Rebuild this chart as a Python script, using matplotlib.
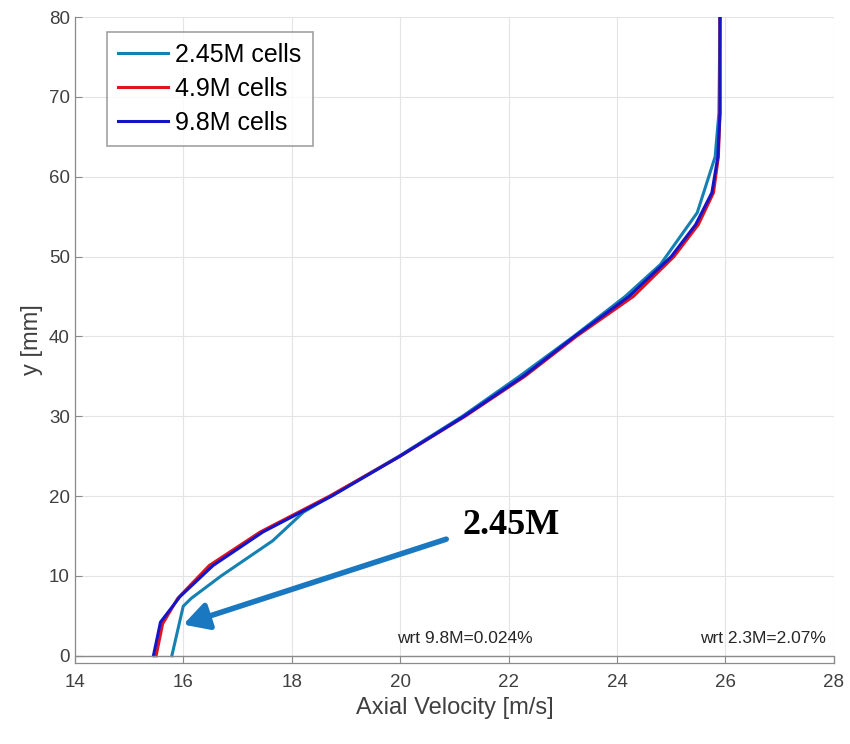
import matplotlib

matplotlib.use("Agg")
import matplotlib.pyplot as plt

plt.rcParams["font.family"] = ["Liberation Sans", "DejaVu Sans"]

# --- data ---------------------------------------------------------------------------------
y_coarse = [0, 6.2, 7.2, 10, 14.4, 18, 20, 25, 30, 35, 40, 45, 49, 55.5, 62.5, 68, 80]
x_coarse = [15.79, 16.0, 16.15, 16.7, 17.65, 18.22, 18.72, 19.98, 21.15, 22.2, 23.2,
            24.15, 24.8, 25.48, 25.81, 25.88, 25.9]

y_medium = [0, 4.0, 7.2, 11.3, 15.5, 20, 25, 30, 35, 40, 45, 50, 54, 58, 62.5, 68, 80]
x_medium = [15.5, 15.62, 15.9, 16.48, 17.42, 18.7, 20.0, 21.2, 22.3, 23.25, 24.3,
            25.05, 25.5, 25.78, 25.87, 25.9, 25.9]

y_fine = [0, 4.2, 7.4, 11.3, 15.5, 20, 25, 30, 35, 40, 45, 50, 54, 58, 62.5, 68, 80]
x_fine = [15.45, 15.58, 15.94, 16.55, 17.47, 18.74, 20.0, 21.18, 22.27, 23.22, 24.22,
          25.0, 25.45, 25.75, 25.86, 25.9, 25.9]

labels = ["2.45M cells", "4.9M cells", "9.8M cells"]
colors = ["#1580b2", "#e0141e", "#1414c8"]

arrow_tail = (20.85, 14.6)
arrow_head = (16.0, 3.9)
arrow_text = "2.45M"
note_left = "wrt 9.8M=0.024%"
note_right = "wrt 2.3M=2.07%"

x_ticks = [14, 16, 18, 20, 22, 24, 26, 28]
y_ticks = [0, 10, 20, 30, 40, 50, 60, 70, 80]

# --- figure -------------------------------------------------------------------------------
fig = plt.figure(figsize=(8.5, 7.44), dpi=100)
ax = fig.add_axes([0.088, 0.109, 0.893, 0.868])

axis_gray = "#8a8a8a"
ax.grid(True, color="#e4e4e4", lw=0.8)
ax.set_axisbelow(True)

for xs, ys, lab, col in zip([x_coarse, x_medium, x_fine], [y_coarse, y_medium, y_fine],
                            labels, colors):
    ax.plot(xs, ys, color=col, lw=2.2, label=lab, solid_joinstyle="round")

ax.axhline(0, color=axis_gray, lw=1.0)

ax.annotate("", xy=arrow_head, xytext=arrow_tail,
            arrowprops=dict(arrowstyle="-|>,head_length=1.0,head_width=0.55",
                            mutation_scale=15, color="#1a78c0", lw=4.0,
                            shrinkA=0, shrinkB=0))
ax.text(21.15, 16.3, arrow_text, family=["Liberation Serif", "DejaVu Serif"],
        fontweight="bold", fontsize=26, va="center", ha="left", color="black")

ax.text(19.95, 2.1, note_left, fontsize=12.5, color="#262626", va="center", ha="left")
ax.text(27.85, 2.1, note_right, fontsize=12.5, color="#262626", va="center", ha="right")

ax.set_xlim(14, 28)
ax.set_ylim(-0.9, 80)
ax.set_xticks(x_ticks)
ax.set_yticks(y_ticks)
ax.tick_params(direction="in", length=5, width=0.8, color=axis_gray,
               labelsize=13.5, labelcolor="#404040", top=False, right=False)
ax.tick_params(axis="x", pad=8)
for s in ax.spines.values():
    s.set_color(axis_gray)
    s.set_linewidth(0.9)
ax.spines["top"].set_visible(False)
# the bottom band is closed at x=28, no right spine above it
ax.spines["right"].set_bounds(-0.9, 0)

ax.set_xlabel("Axial Velocity [m/s]", fontsize=17, color="#404040", labelpad=4)
ax.set_ylabel("y [mm]", fontsize=17, color="#404040", labelpad=4)

leg = ax.legend(loc="upper left", bbox_to_anchor=(0.042, 0.977), fontsize=18,
                frameon=True, fancybox=False, handlelength=2.0, handletextpad=0.3,
                borderpad=0.45, labelspacing=0.4, borderaxespad=0)
leg.get_frame().set_edgecolor("#8a8a8a")
leg.get_frame().set_linewidth(1.2)

fig.savefig("out.png", dpi=100)
